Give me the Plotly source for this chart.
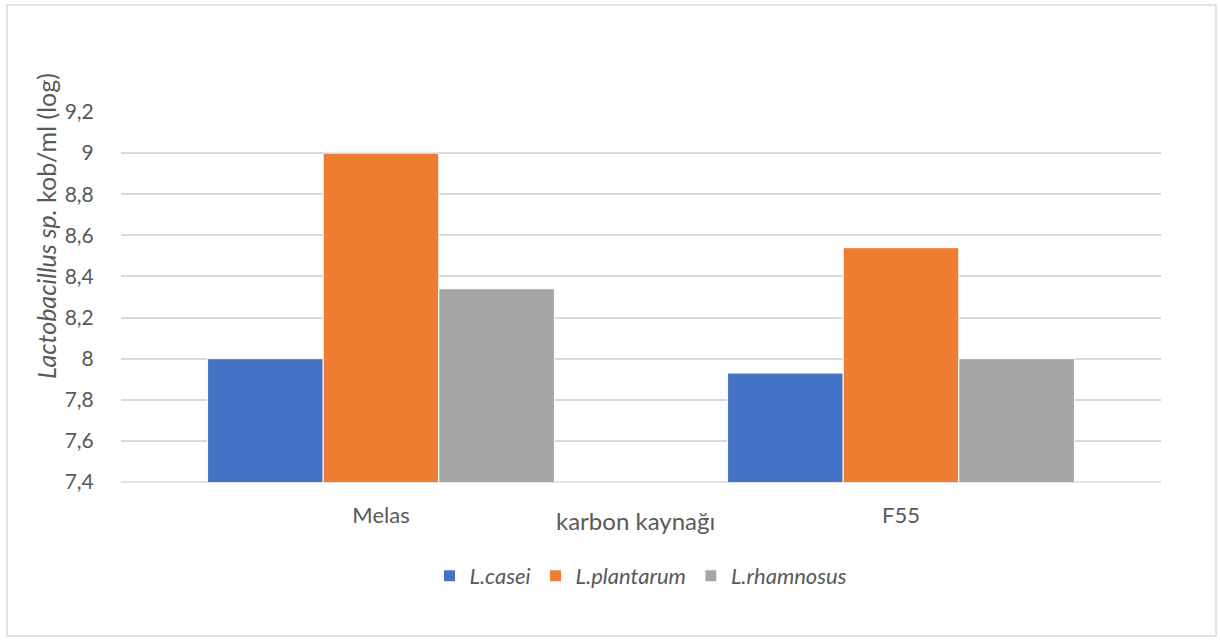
import plotly.graph_objects as go

categories = ["Melas", "F55"]
series_names = ["L.casei", "L.plantarum", "L.rhamnosus"]
casei = [8.00, 7.93]
plantarum = [9.00, 8.54]
rhamnosus = [8.34, 8.00]
colors = ["#4472C4", "#ED7D31", "#A5A5A5"]
y_ticks = [7.4, 7.6, 7.8, 8.0, 8.2, 8.4, 8.6, 8.8, 9.0, 9.2]
y_ticktext = ["7,4", "7,6", "7,8", "8", "8,2", "8,4", "8,6", "8,8", "9", "9,2"]

FONT = "Lato"
TXT = "#595959"

fig = go.Figure()
for name, vals, col in zip(series_names, [casei, plantarum, rhamnosus], colors):
    fig.add_trace(go.Bar(
        x=categories, y=vals, name=f"<i>{name}</i>",
        marker=dict(color=col, line=dict(color="white", width=1)),
    ))

W, H = 1220, 640
L, R, T, B = 121, 59, 112, 158
pw, ph = W - L - R, H - T - B

def px(xp):
    return (xp - L) / pw

def py(yp):
    return (H - B - yp) / ph

fig.update_layout(
    width=W, height=H,
    margin=dict(l=L, r=R, t=T, b=B),
    paper_bgcolor="white", plot_bgcolor="white",
    barmode="group", bargap=0.333, bargroupgap=0,
    font=dict(family=FONT, color=TXT, size=21),
    showlegend=True,
    legend=dict(orientation="h", x=0.5, xanchor="center", y=py(576), yanchor="middle",
                font=dict(size=22, color=TXT), itemwidth=30, traceorder="normal"),
    xaxis=dict(showgrid=False, showline=False, ticks="outside", ticklen=14,
               tickcolor="rgba(0,0,0,0)", tickfont=dict(size=22, color=TXT)),
    yaxis=dict(range=[7.4, 9.2], tickvals=y_ticks, ticktext=y_ticktext,
               showgrid=True, gridcolor="#D9D9D9", gridwidth=1.5,
               zeroline=False, showline=False, ticks="outside", ticklen=22,
               tickcolor="rgba(0,0,0,0)", tickfont=dict(size=21, color=TXT)),
    shapes=[
        dict(type="rect", xref="paper", yref="paper",
             x0=px(7), x1=px(1216), y0=py(636), y1=py(5),
             line=dict(color="#D9D9D9", width=1.5), fillcolor="rgba(0,0,0,0)", layer="below"),
        dict(type="line", xref="paper", yref="paper", x0=0, x1=1, y0=0, y1=0,
             line=dict(color="#D9D9D9", width=1.5), layer="below"),
    ],
    annotations=[
        dict(text="<i>Lactobacillus sp.</i> kob/ml (log)", xref="paper", yref="paper",
             x=px(46), y=py(226), textangle=-90, showarrow=False,
             xanchor="center", yanchor="middle", font=dict(size=25, color=TXT)),
        dict(text="karbon kaynağı", xref="paper", yref="paper",
             x=px(635), y=py(520), showarrow=False,
             xanchor="center", yanchor="middle", font=dict(size=24, color=TXT)),
    ],
)

fig.write_html("out.html")
